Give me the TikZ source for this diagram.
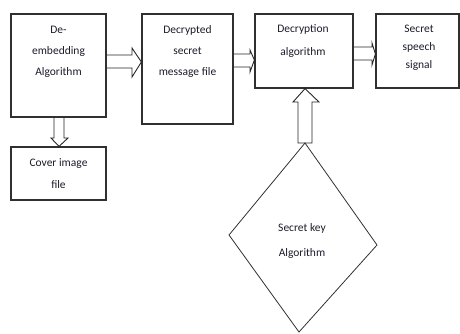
\documentclass[tikz,border=0pt]{standalone}
\usepackage{fontspec}
\setmainfont{Carlito}
\usetikzlibrary{calc}
\definecolor{edge}{HTML}{303030}
\definecolor{ink}{HTML}{1C1C2A}
\tikzset{
  box/.style={draw=edge, line width=1.2pt, rectangle, inner sep=0pt},
  lbl/.style={text=ink, align=center, inner sep=0pt, anchor=north,
              font=\fontsize{11.5}{#1}\selectfont},
  lbl/.default=21,
  blockarrow/.style={draw=black!85, line width=0.9pt, line join=miter},
  keyshape/.style={draw=edge, line width=0.8pt, line join=miter}
}
\begin{document}
\begin{tikzpicture}[x=1pt, y=-1pt]
\useasboundingbox (0,0) rectangle (460,333);

% process boxes
\node[box, minimum width=95pt,  minimum height=103pt] (demb)  at (58.5,65.5)  {};
\node[box, minimum width=91pt,  minimum height=110pt] (dmsg)  at (187.5,69)   {};
\node[box, minimum width=98pt,  minimum height=74pt]  (dalg)  at (304,51)     {};
\node[box, minimum width=83pt,  minimum height=74pt]  (sig)   at (417.5,51)   {};
\node[box, minimum width=95pt,  minimum height=53pt]  (cover) at (58.5,173.5) {};

% box texts
\node[lbl=21] (demb-t)  at (58.5,26)  {De-\\embedding\\Algorithm};
\node[lbl=21] (dmsg-t)  at (187.5,25) {Decrypted\\secret\\message file};
\node[lbl=23] (dalg-t)  at (303,24)   {Decryption\\algorithm};
\node[lbl=18] (sig-t)   at (419,25)   {Secret\\speech\\signal};
\node[lbl=22] (cover-t) at (58.5,158) {Cover image\\file};

% secret key decision shape
\coordinate (kt) at (305,143);
\coordinate (kr) at (377,245);
\coordinate (kb) at (299,332);
\coordinate (kl) at (229,235);
\draw[keyshape] (kt) -- (kr) -- (kb) -- (kl) -- cycle;
\node[lbl=25] (key-t) at (302,223) {Secret key\\Algorithm};

% hollow block arrows
\draw[blockarrow] (demb.east |- 0,55) -- (132,55) -- (132,48) -- (dmsg.west |- 0,62)
  -- (132,77) -- (132,68) -- (demb.east |- 0,68);
\draw[blockarrow] (dmsg.east |- 0,54) -- (250,54) -- (250,50) -- (dalg.west |- 0,60)
  -- (250,72) -- (250,67) -- (dmsg.east |- 0,67);
\draw[blockarrow] (dalg.east |- 0,47) -- (372,47) -- (372,43) -- (sig.west |- 0,54)
  -- (372,65) -- (372,60) -- (dalg.east |- 0,60);
\draw[blockarrow] (54,0 |- demb.south) -- (54,138) -- (51,138) -- (59,0 |- cover.north)
  -- (68,138) -- (64,138) -- (64,0 |- demb.south);
\draw[blockarrow] (298,0 |- kt) -- (298,102) -- (293,102) -- (305,0 |- dalg.south)
  -- (319,102) -- (312,102) -- (312,0 |- kt) -- cycle;
\end{tikzpicture}
\end{document}
